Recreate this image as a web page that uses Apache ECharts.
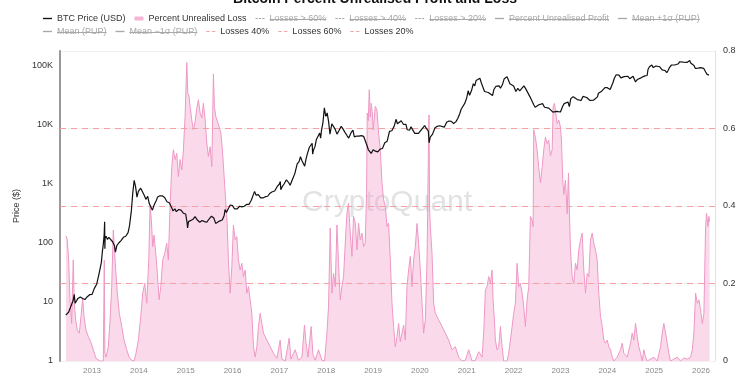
<!DOCTYPE html>
<html>
<head>
<meta charset="utf-8">
<script src="https://cdn.jsdelivr.net/npm/echarts@6/dist/echarts.min.js"></script>
<style>
html,body{margin:0;padding:0;background:#ffffff;}
#chart{width:750px;height:375px;}
</style>
</head>
<body>
<div id="chart"></div>
<script>
// ---- Data (x = decimal year) ----
const btcPrice = [
[2012.44,6.0],[2012.50,6.7],[2012.55,8.5],[2012.60,10.8],[2012.62,13.5],[2012.64,9.5],[2012.70,11.5],[2012.75,12.2],[2012.80,11.5],[2012.85,11.0],[2012.90,12.3],[2012.95,13.3],
[2013.00,13.4],[2013.05,17],[2013.10,20],[2013.15,30],[2013.20,47],[2013.22,70],[2013.24,93],[2013.26,140],[2013.27,230],[2013.275,80],[2013.28,120],[2013.30,130],[2013.33,115],[2013.36,125],[2013.40,118],[2013.44,105],[2013.48,90],[2013.50,70],[2013.53,90],[2013.57,100],[2013.62,110],[2013.67,125],[2013.72,130],[2013.77,150],[2013.80,195],[2013.84,350],[2013.87,700],[2013.90,1150],[2013.93,900],[2013.96,600],[2013.99,750],
[2014.04,850],[2014.08,800],[2014.12,630],[2014.15,550],[2014.19,620],[2014.22,470],[2014.26,450],[2014.29,360],[2014.33,450],[2014.37,520],[2014.40,600],[2014.45,630],[2014.50,630],[2014.55,590],[2014.60,500],[2014.65,480],[2014.70,400],[2014.73,350],[2014.77,380],[2014.80,340],[2014.85,370],[2014.90,360],[2014.95,320],
[2015.00,310],[2015.03,220],[2015.04,180],[2015.06,230],[2015.10,230],[2015.15,250],[2015.20,280],[2015.25,245],[2015.30,225],[2015.35,240],[2015.40,230],[2015.45,225],[2015.50,255],[2015.55,285],[2015.60,265],[2015.64,215],[2015.68,230],[2015.72,235],[2015.78,245],[2015.82,290],[2015.84,370],[2015.85,400],[2015.87,330],[2015.90,370],[2015.95,440],
[2016.00,430],[2016.04,380],[2016.10,380],[2016.15,420],[2016.20,410],[2016.25,420],[2016.30,450],[2016.35,450],[2016.40,530],[2016.45,680],[2016.47,750],[2016.50,650],[2016.55,660],[2016.60,580],[2016.65,580],[2016.70,610],[2016.75,620],[2016.80,700],[2016.85,740],[2016.90,760],[2016.95,900],
[2017.00,1000],[2017.02,1100],[2017.03,800],[2017.06,900],[2017.10,1000],[2017.15,1180],[2017.20,1050],[2017.23,950],[2017.28,1200],[2017.33,1500],[2017.38,2200],[2017.42,2400],[2017.45,2900],[2017.48,2500],[2017.52,2400],[2017.54,2000],[2017.57,2700],[2017.60,3300],[2017.64,4200],[2017.67,4500],[2017.70,4900],[2017.71,3200],[2017.73,3800],[2017.76,4300],[2017.79,5700],[2017.83,6100],[2017.86,7300],[2017.88,6000],[2017.90,8200],[2017.93,11000],[2017.96,19500],[2017.99,14000],
[2018.02,16000],[2018.05,11500],[2018.08,7000],[2018.12,10500],[2018.16,11000],[2018.19,8500],[2018.23,7000],[2018.27,8000],[2018.32,9500],[2018.36,8500],[2018.40,7500],[2018.45,6500],[2018.48,6000],[2018.53,7400],[2018.57,8200],[2018.60,6300],[2018.65,6500],[2018.70,6500],[2018.75,6600],[2018.80,6400],[2018.84,6300],[2018.87,4500],[2018.90,3800],[2018.96,3300],
[2019.00,3800],[2019.05,3600],[2019.10,3500],[2019.15,3900],[2019.20,4000],[2019.25,5000],[2019.30,5300],[2019.35,7800],[2019.40,8000],[2019.45,9500],[2019.49,12500],[2019.52,10500],[2019.55,10000],[2019.60,11800],[2019.65,10200],[2019.70,10300],[2019.73,8300],[2019.78,8200],[2019.81,9300],[2019.85,8800],[2019.89,7200],[2019.93,7400],[2019.97,7200],
[2020.00,7200],[2020.05,8700],[2020.10,9800],[2020.14,8700],[2020.18,7900],[2020.196,5000],[2020.22,6200],[2020.27,7000],[2020.32,8900],[2020.37,9500],[2020.42,9700],[2020.46,9300],[2020.52,9200],[2020.57,11100],[2020.62,11700],[2020.67,11500],[2020.72,10600],[2020.77,11400],[2020.81,13000],[2020.85,15500],[2020.88,18500],[2020.92,19000],[2020.96,23500],
[2021.00,29000],[2021.03,38000],[2021.06,32000],[2021.10,38000],[2021.14,50000],[2021.17,46000],[2021.20,57000],[2021.24,56000],[2021.28,62000],[2021.31,52000],[2021.35,56000],[2021.38,37000],[2021.42,36000],[2021.46,35500],[2021.50,33000],[2021.55,31500],[2021.58,40000],[2021.62,45000],[2021.66,48000],[2021.69,46000],[2021.72,42000],[2021.76,48000],[2021.80,61000],[2021.83,62000],[2021.86,66000],[2021.88,60000],[2021.92,50000],[2021.96,47000],
[2022.00,46000],[2022.05,37000],[2022.09,42000],[2022.13,38000],[2022.17,39000],[2022.22,46000],[2022.26,41000],[2022.30,38000],[2022.35,30000],[2022.38,29500],[2022.43,22000],[2022.46,20000],[2022.50,20000],[2022.54,22000],[2022.58,23500],[2022.62,23000],[2022.66,20000],[2022.70,19500],[2022.75,19300],[2022.79,20500],[2022.84,16500],[2022.88,16500],[2022.92,17000],[2022.96,16800],
[2023.00,16600],[2023.05,21000],[2023.08,23000],[2023.12,22000],[2023.16,24500],[2023.19,20500],[2023.22,28000],[2023.27,30000],[2023.31,28000],[2023.36,27000],[2023.40,27000],[2023.44,26000],[2023.48,30500],[2023.52,30300],[2023.56,29300],[2023.60,29000],[2023.63,26000],[2023.67,26000],[2023.71,26500],[2023.75,27000],[2023.79,30000],[2023.81,34500],[2023.85,35000],[2023.88,37500],[2023.92,38000],[2023.95,43000],
[2024.00,43000],[2024.03,42500],[2024.06,40000],[2024.10,43000],[2024.12,52000],[2024.15,62000],[2024.19,71000],[2024.22,66000],[2024.25,70000],[2024.29,63000],[2024.32,62000],[2024.36,66000],[2024.40,69000],[2024.44,67000],[2024.48,61000],[2024.51,57000],[2024.55,67000],[2024.58,65000],[2024.60,54000],[2024.64,59000],[2024.68,56000],[2024.72,63000],[2024.76,61000],[2024.80,68000],[2024.83,72000],[2024.85,69000],[2024.87,88000],[2024.90,97000],[2024.92,96000],[2024.95,104000],[2024.98,94000],
[2025.00,94000],[2025.04,100000],[2025.06,105000],[2025.08,102000],[2025.12,97000],[2025.15,96000],[2025.17,86000],[2025.20,82000],[2025.23,84000],[2025.27,77000],[2025.30,85000],[2025.33,95000],[2025.37,104000],[2025.40,109000],[2025.44,104000],[2025.48,105000],[2025.52,109000],[2025.54,118000],[2025.58,118000],[2025.62,116000],[2025.63,123000],[2025.66,111000],[2025.70,115000],[2025.74,112000],[2025.76,124000],[2025.78,112000],[2025.82,110000],[2025.85,102000],[2025.88,91000],[2025.90,87000],[2025.94,92000],[2025.99,94000],
[2026.03,90000],[2026.06,91000],[2026.10,79000],[2026.13,72000],[2026.17,70000]
];

const pctUnrealisedLoss = [
[2012.444,0.323],[2012.472,0.313],[2012.502,0.261],[2012.530,0.158],[2012.566,0.097],[2012.600,0.261],[2012.622,0.149],[2012.652,0.106],[2012.686,0.080],[2012.729,0.072],[2012.765,0.115],[2012.801,0.162],[2012.829,0.115],[2012.872,0.080],[2012.921,0.063],[2012.972,0.050],
[2013.028,0.029],[2013.085,0.007],[2013.171,0],[2013.241,0],[2013.262,0.26],[2013.275,0.02],[2013.299,0.010],[2013.348,0.037],[2013.385,0.106],[2013.421,0.192],[2013.455,0.338],[2013.476,0.295],[2013.506,0.235],[2013.541,0.175],[2013.583,0.123],[2013.635,0.089],[2013.684,0.054],[2013.741,0.029],[2013.791,0.010],[2013.848,0.002],[2013.897,0],[2013.940,0.020],[2013.989,0.054],
[2014.041,0.115],[2014.083,0.175],[2014.126,0.200],[2014.169,0.149],[2014.212,0.261],[2014.239,0.403],[2014.267,0.364],[2014.297,0.295],[2014.325,0.325],[2014.361,0.278],[2014.395,0.226],[2014.432,0.158],[2014.468,0.192],[2014.511,0.261],[2014.553,0.278],[2014.596,0.304],[2014.630,0.261],[2014.667,0.40],[2014.703,0.50],[2014.737,0.545],[2014.774,0.52],[2014.810,0.536],[2014.844,0.476],[2014.880,0.52],[2014.917,0.493],[2014.951,0.545],[2014.987,0.631],
[2015.009,0.717],[2015.024,0.77],[2015.045,0.691],[2015.073,0.683],[2015.094,0.657],[2015.130,0.622],[2015.165,0.597],[2015.201,0.618],[2015.237,0.652],[2015.271,0.674],[2015.308,0.64],[2015.344,0.627],[2015.378,0.665],[2015.415,0.622],[2015.451,0.562],[2015.485,0.528],[2015.521,0.553],[2015.558,0.502],[2015.592,0.741],[2015.613,0.657],[2015.643,0.631],[2015.677,0.635],[2015.714,0.605],[2015.750,0.588],[2015.784,0.545],[2015.821,0.476],[2015.857,0.407],[2015.885,0.356],[2015.912,0.26],[2015.949,0.175],[2015.985,0.244],
[2016.019,0.351],[2016.056,0.313],[2016.092,0.321],[2016.126,0.261],[2016.162,0.235],[2016.199,0.252],[2016.233,0.218],[2016.269,0.235],[2016.306,0.175],[2016.340,0.192],[2016.376,0.158],[2016.412,0.123],[2016.447,0.037],[2016.483,0.010],[2016.519,0.037],[2016.553,0.089],[2016.590,0.123],[2016.626,0.097],[2016.660,0.072],[2016.733,0.054],[2016.803,0.037],[2016.874,0.020],[2016.947,0.007],
[2017.017,0.054],[2017.053,0.005],[2017.124,0],[2017.209,0.059],[2017.246,0.005],[2017.338,0.029],[2017.408,0.002],[2017.481,0.010],[2017.536,0.093],[2017.566,0.05],[2017.609,0.010],[2017.679,0.089],[2017.716,0.017],[2017.765,0.002],[2017.835,0.029],[2017.872,0.031],[2017.908,0.002],[2017.964,0],
[2018.015,0.072],[2018.049,0.14],[2018.085,0.343],[2018.122,0.175],[2018.156,0.226],[2018.192,0.192],[2018.229,0.351],[2018.263,0.252],[2018.299,0.158],[2018.335,0.192],[2018.370,0.218],[2018.406,0.304],[2018.442,0.381],[2018.476,0.407],[2018.513,0.33],[2018.549,0.27],[2018.583,0.373],[2018.620,0.356],[2018.656,0.287],[2018.690,0.356],[2018.726,0.313],[2018.763,0.33],[2018.797,0.295],[2018.833,0.304],[2018.861,0.433],[2018.876,0.64],[2018.897,0.62],[2018.919,0.70],[2018.940,0.63],[2018.962,0.665],[2018.983,0.64],
[2019.004,0.596],[2019.047,0.657],[2019.083,0.648],[2019.118,0.588],[2019.154,0.545],[2019.190,0.459],[2019.224,0.416],[2019.261,0.40],[2019.297,0.347],[2019.331,0.356],[2019.368,0.261],[2019.404,0.149],[2019.438,0.089],[2019.474,0.037],[2019.511,0.063],[2019.545,0.097],[2019.581,0.05],[2019.617,0.072],[2019.652,0.093],[2019.688,0.054],[2019.724,0.192],[2019.759,0.235],[2019.795,0.27],[2019.831,0.192],[2019.865,0.261],[2019.902,0.295],[2019.938,0.355],[2019.972,0.304],
[2020.009,0.235],[2020.045,0.149],[2020.079,0.072],[2020.115,0.106],[2020.152,0.261],[2020.179,0.52],[2020.194,0.635],[2020.207,0.39],[2020.222,0.347],[2020.258,0.278],[2020.293,0.149],[2020.329,0.123],[2020.400,0.106],[2020.472,0.089],[2020.543,0.072],[2020.613,0.054],[2020.686,0.029],[2020.756,0.037],[2020.827,0.010],[2020.900,0],[2020.970,0.002],
[2021.041,0.029],[2021.113,0],[2021.184,0.002],[2021.254,0.024],[2021.327,0.010],[2021.361,0.072],[2021.397,0.183],[2021.434,0.192],[2021.468,0.218],[2021.504,0.20],[2021.541,0.235],[2021.562,0.158],[2021.590,0.106],[2021.611,0.054],[2021.647,0.029],[2021.682,0.037],[2021.718,0.089],[2021.754,0.037],[2021.788,0],[2021.861,0],[2021.895,0.02],[2021.932,0.054],[2021.968,0.089],
[2022.002,0.123],[2022.038,0.149],[2022.075,0.252],[2022.109,0.192],[2022.145,0.20],[2022.182,0.175],[2022.216,0.14],[2022.252,0.089],[2022.288,0.158],[2022.323,0.192],[2022.359,0.373],[2022.395,0.364],[2022.417,0.347],[2022.429,0.597],[2022.466,0.576],[2022.502,0.545],[2022.536,0.50],[2022.573,0.46],[2022.609,0.50],[2022.643,0.544],[2022.679,0.578],[2022.716,0.561],[2022.750,0.57],[2022.786,0.53],[2022.823,0.545],[2022.844,0.656],[2022.872,0.665],[2022.893,0.647],[2022.929,0.613],[2022.964,0.622],
[2023.000,0.604],[2023.021,0.57],[2023.049,0.467],[2023.071,0.43],[2023.107,0.467],[2023.143,0.38],[2023.171,0.485],[2023.192,0.38],[2023.214,0.287],[2023.250,0.218],[2023.284,0.20],[2023.321,0.252],[2023.357,0.235],[2023.391,0.287],[2023.427,0.312],[2023.464,0.33],[2023.498,0.235],[2023.534,0.175],[2023.571,0.226],[2023.605,0.218],[2023.641,0.312],[2023.677,0.33],[2023.712,0.304],[2023.748,0.287],[2023.784,0.261],[2023.818,0.175],[2023.855,0.115],[2023.891,0.089],[2023.925,0.054],[2023.962,0.046],[2023.998,0.054],
[2024.032,0.037],[2024.068,0.029],[2024.105,0.010],[2024.139,0],[2024.212,0.010],[2024.282,0.029],[2024.318,0.046],[2024.353,0.020],[2024.425,0.010],[2024.496,0.046],[2024.532,0.072],[2024.566,0.054],[2024.603,0.097],[2024.639,0.063],[2024.673,0.037],[2024.709,0.020],[2024.746,0],[2024.780,0.029],[2024.816,0.010],[2024.853,0],[2024.923,0.005],[2024.994,0.010],
[2025.066,0],[2025.137,0.037],[2025.173,0.072],[2025.207,0.097],[2025.244,0.072],[2025.280,0.046],[2025.314,0.020],[2025.350,0],[2025.421,0.005],[2025.494,0.010],[2025.564,0],[2025.635,0.008],[2025.707,0.005],[2025.778,0.010],[2025.814,0.029],[2025.848,0.072],[2025.885,0.175],[2025.921,0.149],[2025.955,0.158],[2025.991,0.132],
[2026.028,0.097],[2026.062,0.123],[2026.098,0.347],[2026.120,0.381],[2026.147,0.347],[2026.169,0.373],[2026.184,0.36]
];

const lossLevelNames = ['Losses 40%', 'Losses 60%', 'Losses 20%'];
const lossLevelValues = [0.4, 0.6, 0.2];
const hiddenDashedNames = ['Losses > 60%', 'Losses > 40%', 'Losses > 20%'];
const hiddenSolidNames = ['Percent Unrealised Profit', 'Mean +1σ (PUP)', 'Mean (PUP)', 'Mean −1σ (PUP)'];
const legendRow1 = ['BTC Price (USD)', 'Percent Unrealised Loss', 'Losses > 60%', 'Losses > 40%', 'Losses > 20%', 'Percent Unrealised Profit', 'Mean +1σ (PUP)'];
const legendRow2 = ['Mean (PUP)', 'Mean −1σ (PUP)', 'Losses 40%', 'Losses 60%', 'Losses 20%'];
const priceTickLabels = {1: '1', 10: '10', 100: '100', 1000: '1K', 10000: '10K', 100000: '100K'};
const xMin = 2012.317, xMax = 2026.299;

// ---- Chart ----
const FONT = "'Liberation Sans', Arial, Helvetica, sans-serif";
const LEG_LEFT = 43, LEG_ITEM_W = 9, LEG_GAP = 9, LEG_FONT = 9;
const LEG_TOPS = [14, 27];
const ICON_SOLID = 'path://M0,0H10V1.5H0Z';
const ICON_DASH3 = 'path://M0,0H3V1.2H0Z M4.5,0H7.5V1.2H4.5Z M9,0H12V1.2H9Z';
const ICON_DASH2 = 'path://M0,0H4V1.3H0Z M7,0H11V1.3H7Z';

const chart = echarts.init(document.getElementById('chart'), null, {renderer: 'canvas'});

const selected = {};
hiddenDashedNames.concat(hiddenSolidNames).forEach(n => { selected[n] = false; });

function iconFor(n) {
  if (n === 'Percent Unrealised Loss') return 'roundRect';
  if (hiddenDashedNames.indexOf(n) >= 0) return ICON_DASH3;
  if (lossLevelNames.indexOf(n) >= 0) return ICON_DASH2;
  return ICON_SOLID;
}

const legendCommon = {
  orient: 'horizontal',
  left: LEG_LEFT,
  itemWidth: LEG_ITEM_W,
  itemHeight: 4,
  itemGap: LEG_GAP,
  padding: 0,
  selected: selected,
  inactiveColor: '#a8a8a8',
  inactiveBorderColor: '#a8a8a8',
  textStyle: {fontSize: LEG_FONT, color: '#333', fontFamily: FONT}
};

const series = [];
series.push({
  name: 'BTC Price (USD)', type: 'line', xAxisIndex: 0, yAxisIndex: 0,
  data: btcPrice, symbol: 'none', z: 5,
  lineStyle: {color: '#111', width: 1.2},
  itemStyle: {color: '#111'}
});
series.push({
  name: 'Percent Unrealised Loss', type: 'line', xAxisIndex: 0, yAxisIndex: 1,
  data: pctUnrealisedLoss, symbol: 'none', z: 2,
  lineStyle: {color: '#ee98c5', width: 1},
  itemStyle: {color: '#f4b4d5'},
  areaStyle: {color: 'rgba(240,150,196,0.5)'}
});
hiddenDashedNames.forEach(n => series.push({
  name: n, type: 'line', yAxisIndex: 1, data: [], symbol: 'none',
  lineStyle: {color: '#999', width: 1, type: [3, 2]}, itemStyle: {color: '#999'}
}));
hiddenSolidNames.forEach(n => series.push({
  name: n, type: 'line', yAxisIndex: 1, data: [], symbol: 'none',
  lineStyle: {color: '#999', width: 1}, itemStyle: {color: '#999'}
}));
lossLevelNames.forEach((n, i) => series.push({
  name: n, type: 'line', yAxisIndex: 1, data: [], symbol: 'none', z: 4,
  lineStyle: {color: '#f3a3a6', width: 1, type: [3, 3]},
  itemStyle: {color: '#f3a3a6'},
  markLine: {
    silent: true, symbol: 'none', label: {show: false},
    lineStyle: {color: '#f5a0a3', width: 1, type: [6, 5]},
    data: [{yAxis: lossLevelValues[i]}]
  }
}));

// strike-through marks for the switched-off legend entries (legend decoration only)
const measureCtx = document.createElement('canvas').getContext('2d');
measureCtx.font = LEG_FONT + 'px ' + FONT;
function strikeLines(row, top) {
  const out = [];
  let x = LEG_LEFT;
  row.forEach(n => {
    const w = measureCtx.measureText(n).width;
    const tx = x + LEG_ITEM_W + 5;
    if (selected[n] === false) {
      const y = Math.round(top + 5) + 0.5;
      out.push({type: 'line', silent: true, z: 100,
        shape: {x1: tx, y1: y, x2: tx + w, y2: y},
        style: {stroke: '#a8a8a8', lineWidth: 1}});
    }
    x = tx + w + LEG_GAP;
  });
  return out;
}

chart.setOption({
  animation: false,
  backgroundColor: '#ffffff',
  title: {
    text: 'Bitcoin Percent Unrealised Profit and Loss',
    left: 'center', top: -13,
    textStyle: {fontSize: 14, fontWeight: 'bold', color: '#111', fontFamily: FONT}
  },
  legend: [
    Object.assign({}, legendCommon, {
      top: LEG_TOPS[0],
      data: legendRow1.map(n => ({name: n, icon: iconFor(n)}))
    }),
    Object.assign({}, legendCommon, {
      top: LEG_TOPS[1],
      data: legendRow2.map(n => ({name: n, icon: iconFor(n)}))
    })
  ],
  grid: {left: 60, right: 35, top: 51, bottom: 14, containLabel: false},
  graphic: [{
    type: 'text', left: 302, top: 188, z: 1, silent: true,
    style: {text: 'CryptoQuant', fontSize: 30, fontFamily: FONT, fill: 'rgba(160,160,170,0.3)'}
  }].concat(strikeLines(legendRow1, LEG_TOPS[0]), strikeLines(legendRow2, LEG_TOPS[1])),
  xAxis: {
    type: 'value', min: xMin, max: xMax, splitNumber: 14,
    axisLine: {show: false}, axisTick: {show: false}, splitLine: {show: false},
    axisLabel: {
      fontSize: 8, color: '#888', margin: 6, fontFamily: FONT,
      showMinLabel: false, showMaxLabel: false,
      formatter: v => (Math.abs(v - Math.round(v)) < 1e-6 ? String(Math.round(v)) : '')
    }
  },
  yAxis: [
    {
      type: 'log', logBase: 10, min: 1, max: 179600, position: 'left',
      name: 'Price ($)', nameLocation: 'middle', nameGap: 33, nameRotate: 90,
      nameTextStyle: {fontSize: 9, color: '#333', fontFamily: FONT},
      axisLine: {show: true, lineStyle: {color: '#999', width: 2}},
      axisTick: {show: false}, splitLine: {show: false},
      axisLabel: {
        fontSize: 9, color: '#333', margin: 7, fontFamily: FONT, showMaxLabel: false,
        formatter: v => priceTickLabels[Math.round(v)] || ''
      }
    },
    {
      type: 'value', min: 0, max: 0.8, interval: 0.2, position: 'right',
      axisLine: {show: true, lineStyle: {color: '#e2e2e2', width: 1}},
      axisTick: {show: false},
      splitLine: {show: true, lineStyle: {color: '#f1f1f1', width: 1}},
      axisLabel: {fontSize: 9, color: '#333', margin: 8, fontFamily: FONT}
    }
  ],
  series: series
});
</script>
</body>
</html>
